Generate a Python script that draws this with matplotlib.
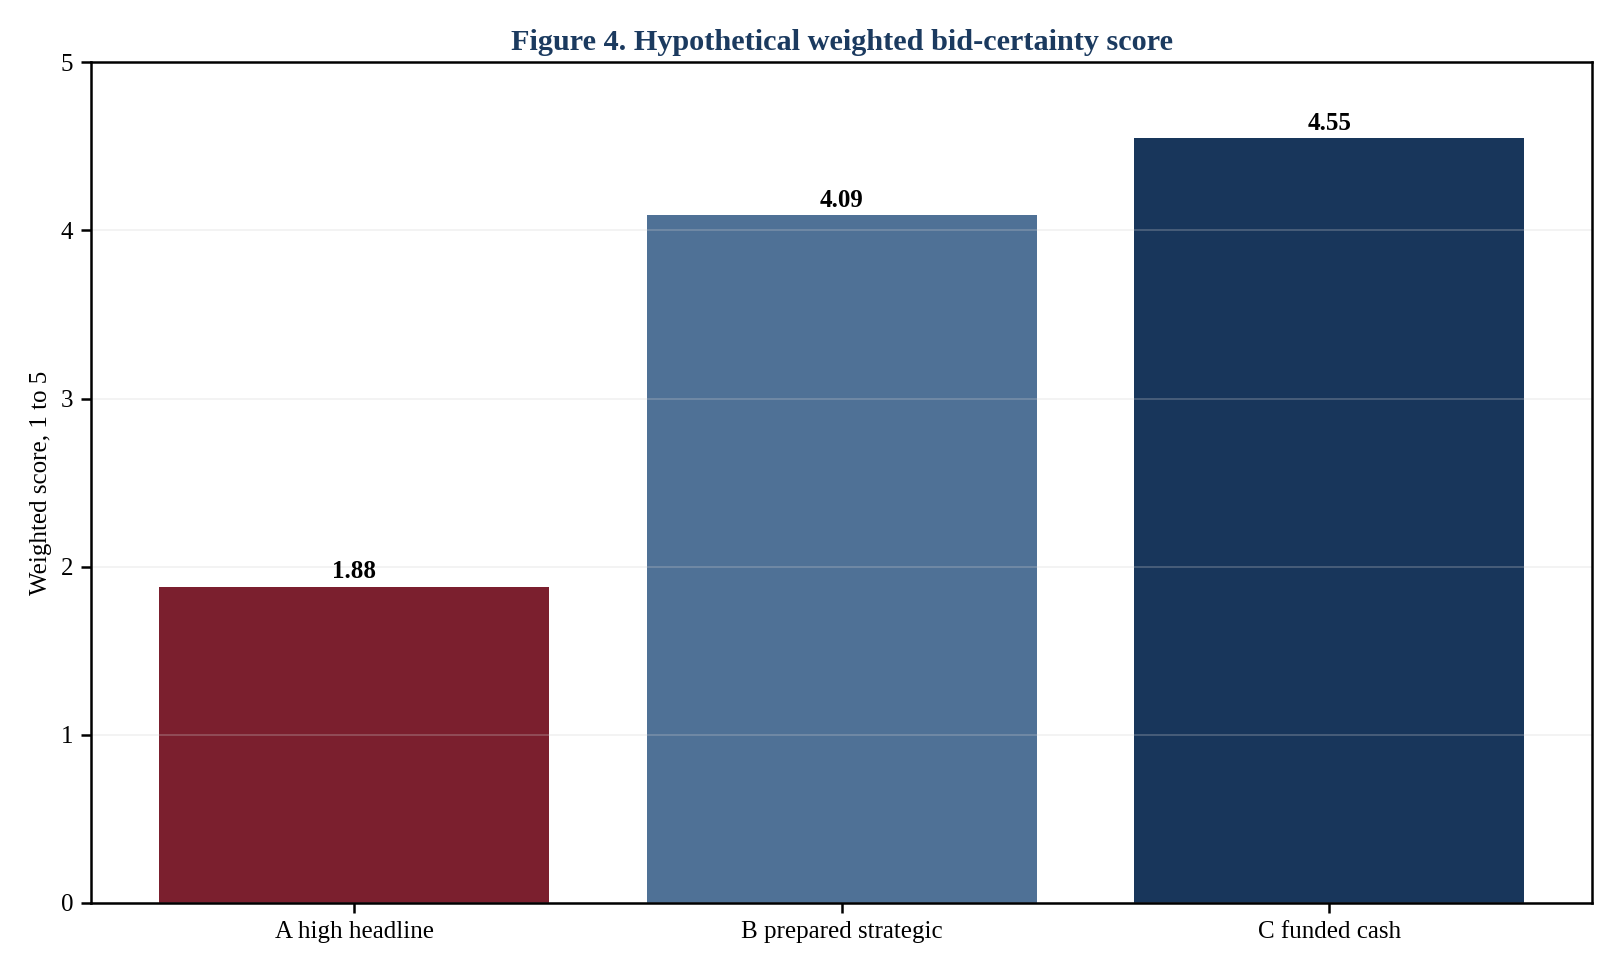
import matplotlib
matplotlib.use("Agg")
import matplotlib.pyplot as plt

categories = ["A high headline", "B prepared strategic", "C funded cash"]
scores = [1.88, 4.09, 4.55]
bar_colors = ["#7B1F2E", "#4F7196", "#18365B"]
yticks = [0, 1, 2, 3, 4, 5]

plt.rcParams["font.family"] = ["Liberation Serif", "DejaVu Serif"]

fig = plt.figure(figsize=(10.8, 6.48), dpi=150)
ax = fig.add_axes([0.056, 0.071, 0.927, 0.865])

x = list(range(len(categories)))
bars = ax.bar(x, scores, width=0.8, color=bar_colors, zorder=2)
for xi, v in zip(x, scores):
    ax.text(xi, v + 0.02, f"{v:.2f}", ha="center", va="bottom",
            fontsize=12, fontweight="bold", color="black", zorder=4)

ax.set_ylim(0, 5)
ax.set_yticks(yticks)
ax.set_xticks(x)
ax.set_xticklabels(categories)
ax.tick_params(axis="both", labelsize=12, length=5, width=1.2, colors="black")
ax.yaxis.grid(True, color="#d0d0d0", linewidth=0.8, alpha=0.3, zorder=3)
ax.set_axisbelow(False)
for s in ax.spines.values():
    s.set_linewidth(1.2)
    s.set_zorder(5)

ax.set_ylabel("Weighted score, 1 to 5", fontsize=12)
ax.set_title("Figure 4. Hypothetical weighted bid-certainty score",
             fontsize=14.5, fontweight="bold", color="#1B3A5F", pad=6)

fig.savefig("out.png", dpi=150)
